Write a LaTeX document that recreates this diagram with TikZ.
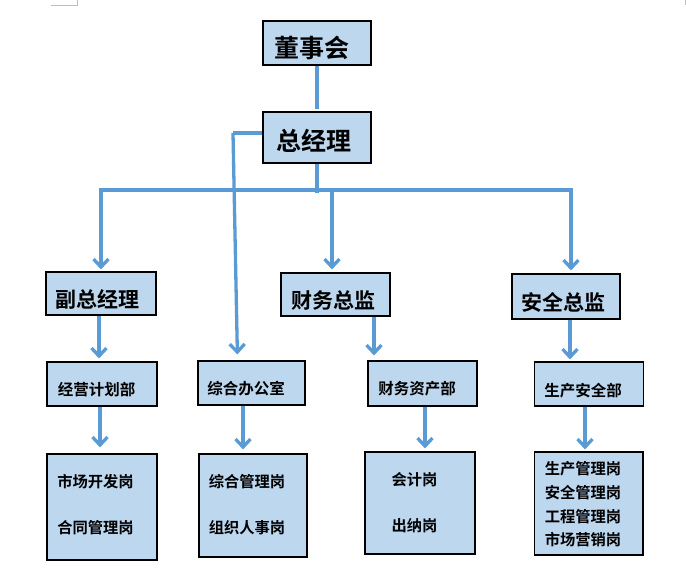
\documentclass[tikz,border=0pt]{standalone}
\usepackage{fontspec}
\setmainfont{Noto Sans CJK SC}[BoldFont={Noto Sans CJK SC Bold}]
\usetikzlibrary{arrows.meta}
\definecolor{linkblue}{HTML}{5B9BD5}
\definecolor{boxfill}{HTML}{BDD7EE}
\definecolor{markgray}{HTML}{BFBFBF}
\tikzset{
  orgbox/.style={draw=black, fill=boxfill, line width=1.1pt, inner sep=0pt, rectangle},
  boxtext/.style={inner sep=0pt, font=\bfseries, anchor=center},
  link/.style={draw=linkblue, line width=3.3pt},
  linkarrow/.style={link, -{Straight Barb[length=8pt,width=15pt]}},
}
\newcommand{\orgnode}[6]{% name, x1, y1, x2, y2
  \node[orgbox, minimum width={(#4-#2)*1pt}, minimum height={(#5-#3)*1pt}] (#1) at ({(#2+#4)/2},{(#3+#5)/2}) {#6};}
\begin{document}
\begin{tikzpicture}[x=1pt,y=-1pt]
\useasboundingbox (0,0) rectangle (686,573);
% page corner marks
\draw[markgray, line width=0.8pt] (51,5) -- (77,5) -- (77,0);
\draw[markgray, line width=0.8pt] (685,0) -- (685,5);
% boxes
\orgnode{dsh}{263}{21}{371}{65}{}
\orgnode{zjl}{263}{112}{371}{163}{}
\orgnode{fzjl}{46}{272}{156}{315}{}
\orgnode{cwzj}{281}{273}{390}{316}{}
\orgnode{aqzj}{512}{274}{620}{319}{}
\orgnode{jyjh}{47}{362}{157}{406}{}
\orgnode{zhbg}{198}{361}{305}{405}{}
\orgnode{cwzc}{368}{361}{477}{406}{}
\orgnode{scaq}{534.5}{362}{643.5}{406}{}
\orgnode{bA}{47}{454}{157}{560}{}
\orgnode{bB}{199}{454}{307}{557}{}
\orgnode{bC}{365}{452}{475}{554}{}
\orgnode{bD}{534.5}{452}{643}{555}{}
% texts
\node[boxtext, font=\fontsize{25}{25}\selectfont\bfseries] (dsh-t) at (311.5,47.5) {董事会};
\node[boxtext, font=\fontsize{25}{25}\selectfont\bfseries] (zjl-t) at (314,141) {总经理};
\node[boxtext, font=\fontsize{21}{21}\selectfont\bfseries] (fzjl-t) at (98,299) {副总经理};
\node[boxtext, font=\fontsize{21}{21}\selectfont\bfseries] (cwzj-t) at (333,300.5) {财务总监};
\node[boxtext, font=\fontsize{21}{21}\selectfont\bfseries] (aqzj-t) at (563,302) {安全总监};
\node[boxtext, font=\fontsize{15.5}{15.5}\selectfont\bfseries] (jyjh-t) at (96.5,390) {经营计划部};
\node[boxtext, font=\fontsize{15.5}{15.5}\selectfont\bfseries] (zhbg-t) at (246,389) {综合办公室};
\node[boxtext, font=\fontsize{15.5}{15.5}\selectfont\bfseries] (cwzc-t) at (417,389) {财务资产部};
\node[boxtext, font=\fontsize{15.5}{15.5}\selectfont\bfseries] (scaq-t) at (583,391) {生产安全部};
\node[boxtext, font=\fontsize{15.3}{15.3}\selectfont\bfseries] (bA-1) at (95.5,482) {市场开发岗};
\node[boxtext, font=\fontsize{15.3}{15.3}\selectfont\bfseries] (bA-2) at (95.5,528) {合同管理岗};
\node[boxtext, font=\fontsize{15.3}{15.3}\selectfont\bfseries] (bB-1) at (247,482) {综合管理岗};
\node[boxtext, font=\fontsize{15.3}{15.3}\selectfont\bfseries] (bB-2) at (247,528) {组织人事岗};
\node[boxtext, font=\fontsize{15.3}{15.3}\selectfont\bfseries] (bC-1) at (414.5,480) {会计岗};
\node[boxtext, font=\fontsize{15.3}{15.3}\selectfont\bfseries] (bC-2) at (414.5,526) {出纳岗};
\node[boxtext, font=\fontsize{15.3}{15.3}\selectfont\bfseries] (bD-1) at (583,468.5) {生产管理岗};
\node[boxtext, font=\fontsize{15.3}{15.3}\selectfont\bfseries] (bD-2) at (583,492.5) {安全管理岗};
\node[boxtext, font=\fontsize{15.3}{15.3}\selectfont\bfseries] (bD-3) at (583,516.5) {工程管理岗};
\node[boxtext, font=\fontsize{15.3}{15.3}\selectfont\bfseries] (bD-4) at (583,540) {市场营销岗};
% bus coordinates
\coordinate (busL) at (101,190);
\coordinate (busR) at (571,190);
\coordinate (busM) at (317,193);
\coordinate (busC) at (332,191.5);
\coordinate (zhTurn) at (233,133);
% connectors
\draw[link, shorten >=2pt] (317,0 |- dsh.south) -- (317,0 |- zjl.north);
\draw[link] (317,0 |- zjl.south) -- (busM);
\draw[link, line cap=rect] (busL) -- (busR);
\draw[linkarrow, shorten >=2pt] (busL) -- (101,0 |- fzjl.north);
\draw[linkarrow, shorten >=3pt] (busC) -- (332,0 |- cwzj.north);
\draw[linkarrow, shorten >=3pt] (busR) -- (571,0 |- aqzj.north);
\draw[link] (zjl.west |- 0,133) -- (zhTurn);
\draw[linkarrow, shorten >=6pt] (zhTurn) -- (237.5,0 |- zhbg.north);
\draw[linkarrow, shorten >=3pt] (99,0 |- fzjl.south) -- (99,0 |- jyjh.north);
\draw[linkarrow, shorten >=5pt] (374,0 |- cwzj.south) -- (374,0 |- cwzc.north);
\draw[linkarrow, shorten >=2pt] (570,0 |- aqzj.south) -- (570,0 |- scaq.north);
\draw[linkarrow, shorten >=6pt] (100,0 |- jyjh.south) -- (100,0 |- bA.north);
\draw[linkarrow, shorten >=4pt] (243,0 |- zhbg.south) -- (243,0 |- bB.north);
\draw[linkarrow, shorten >=3pt] (425,0 |- cwzc.south) -- (425,0 |- bC.north);
\draw[linkarrow, shorten >=2pt] (585,0 |- scaq.south) -- (585,0 |- bD.north);
\end{tikzpicture}
\end{document}
